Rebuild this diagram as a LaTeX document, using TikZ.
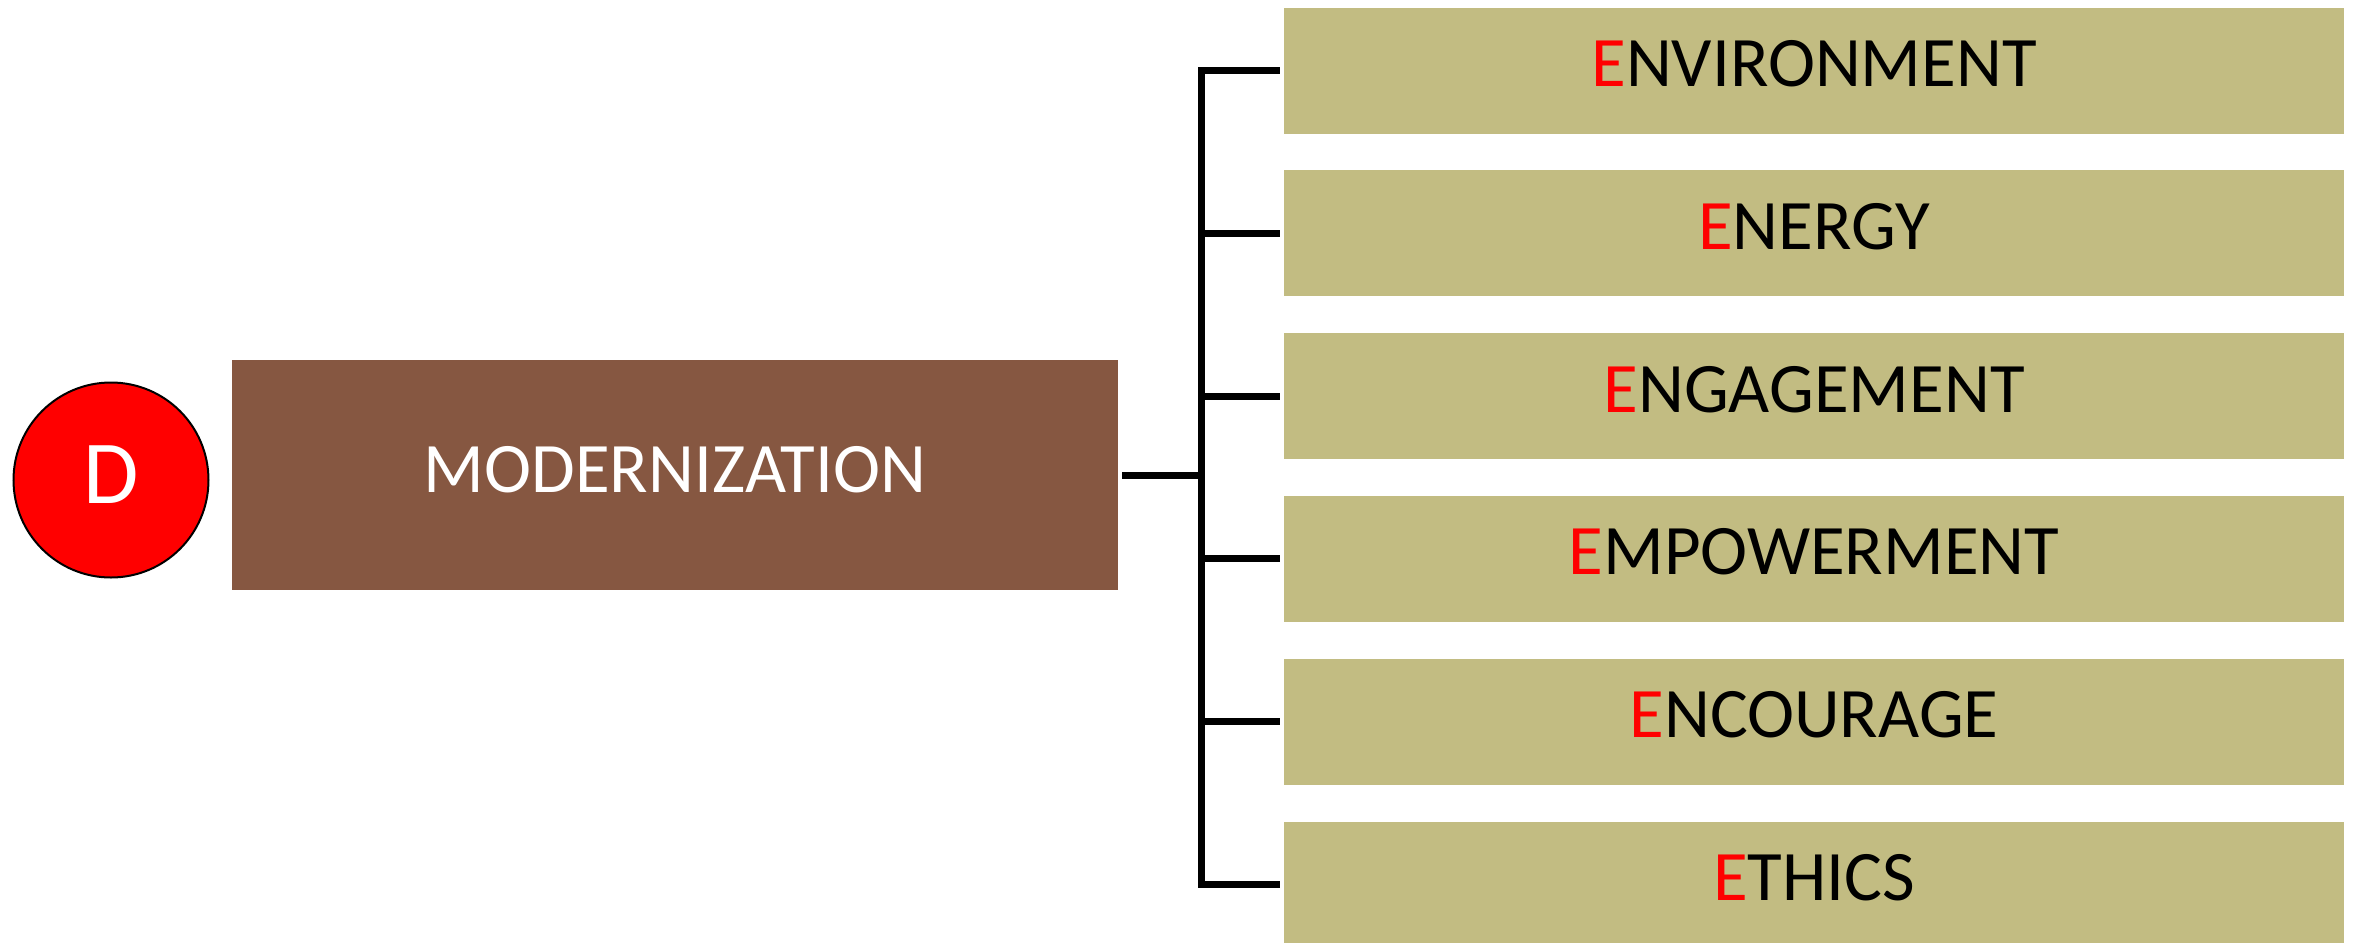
\documentclass[tikz,border=0pt]{standalone}
\usepackage{fontspec}
\setmainfont{Carlito}
\usepackage{xcolor}
\usetikzlibrary{positioning}

\definecolor{bark}{HTML}{865741}
\definecolor{khaki}{HTML}{C2BC82}

\begin{document}
\begin{tikzpicture}[x=0.5pt, y=-0.5pt, node distance=18pt,
    hub/.style={circle, draw=black, line width=1pt, fill=red, minimum size=97.5pt, inner sep=0pt, text=white, text depth=5pt, font=\fontsize{45}{50}\selectfont},
    core/.style={rectangle, fill=bark, minimum width=443pt, minimum height=115pt, text=white, text depth=6pt, font=\fontsize{35.5}{40}\selectfont},
    ebox/.style={rectangle, fill=khaki, minimum width=530pt, minimum height=63pt, text depth=7pt, font=\fontsize{35.5}{40}\selectfont},
    link/.style={line width=3.5pt}]

    \useasboundingbox (0,0) rectangle (2354,942);

    \node[hub] (D) at (111,480) {D};
    \node[core] (modern) at (675,475) {MODERNIZATION};

    \node[ebox] (e1) at (1814,70.5) {\textcolor{red}{E}NVIRONMENT};
    \node[ebox, below=of e1] (e2) {\textcolor{red}{E}NERGY};
    \node[ebox, below=of e2] (e3) {\textcolor{red}{E}NGAGEMENT};
    \node[ebox, below=of e3] (e4) {\textcolor{red}{E}MPOWERMENT};
    \node[ebox, below=of e4] (e5) {\textcolor{red}{E}NCOURAGE};
    \node[ebox, below=of e5] (e6) {\textcolor{red}{E}THICS};

    % bracket
    \coordinate (spine) at (1201,475);
    \draw[link, shorten <=2pt] (modern.east) -- (modern.east -| spine);
    \draw[link, line join=miter, shorten <=2pt, shorten >=2pt] (e1.west) -| (spine |- e6.west) -- (e6.west);
    \draw[link, shorten >=2pt] (spine |- e2.west) -- (e2.west);
    \draw[link, shorten >=2pt] (spine |- e3.west) -- (e3.west);
    \draw[link, shorten >=2pt] (spine |- e4.west) -- (e4.west);
    \draw[link, shorten >=2pt] (spine |- e5.west) -- (e5.west);
\end{tikzpicture}
\end{document}
